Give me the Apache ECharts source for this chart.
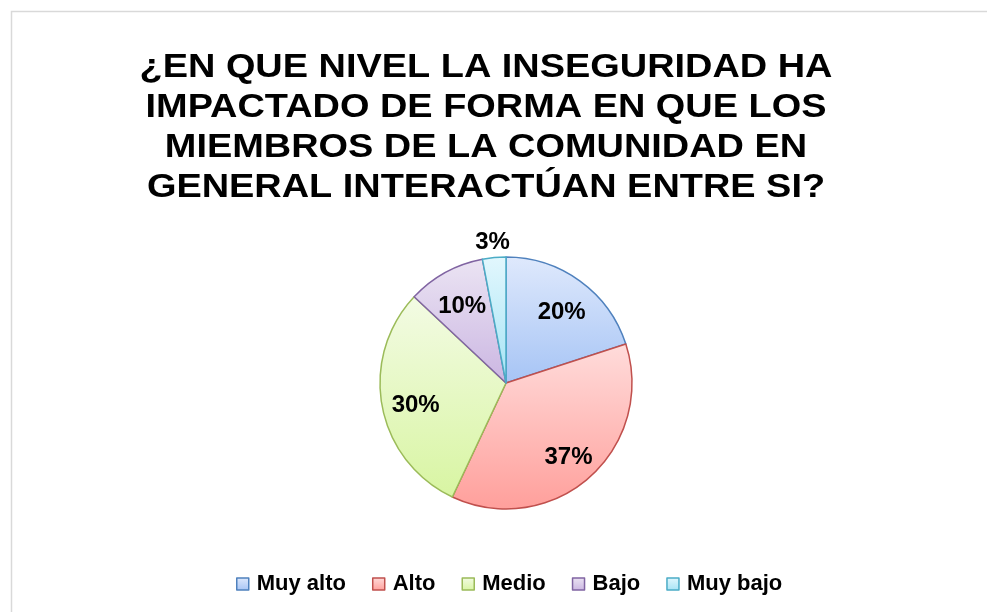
<!DOCTYPE html>
<html>
<head>
    <meta charset="UTF-8">
    <title>Inseguridad</title>
    <script src="https://cdn.jsdelivr.net/npm/echarts/dist/echarts.min.js"></script>
    <style>
        body { margin: 0; background: #fff; }
        #chart { width: 987px; height: 612px; }
    </style>
</head>
<body>
<div id="chart"></div>
<script>
    // datos del gráfico
    var categorias = ['Muy alto', 'Alto', 'Medio', 'Bajo', 'Muy bajo'];
    var valores = [20, 37, 30, 10, 3];
    var titulo = '¿EN QUE NIVEL LA INSEGURIDAD HA\nIMPACTADO DE FORMA EN QUE LOS\nMIEMBROS DE LA COMUNIDAD EN\nGENERAL INTERACTÚAN ENTRE SI?';

    // colores: borde, degradado arriba, degradado abajo
    var bordes = ['#4f81bd', '#c0504d', '#9bbb59', '#8064a2', '#4bacc6'];
    var claros = ['#dfe9fc', '#ffdcdb', '#f3fbe4', '#ebe4f3', '#e2f7fd'];
    var oscuros = ['#a6c4f5', '#ff9f9b', '#d8f5a2', '#cbb6e2', '#a5e3f5'];

    function degradado(i) {
        return new echarts.graphic.LinearGradient(0, 0, 0, 1, [
            { offset: 0, color: claros[i] },
            { offset: 1, color: oscuros[i] }
        ]);
    }

    var datos = categorias.map(function (c, i) {
        return {
            name: c,
            value: valores[i],
            itemStyle: { color: degradado(i), borderColor: bordes[i] }
        };
    });

    // etiquetas dentro (valores grandes) y fuera (valores pequeños)
    var etiquetasDentro = categorias.map(function (c, i) {
        return { name: c, value: valores[i], label: { show: valores[i] >= 5 } };
    });
    var etiquetasFuera = categorias.map(function (c, i) {
        return { name: c, value: valores[i], label: { show: valores[i] < 5 } };
    });

    var chart = echarts.init(document.getElementById('chart'));
    var font = 'Liberation Sans, Arial, sans-serif';
    var centro = [506, 383];

    function capaEtiquetas(radio, datosEt, desplaz) {
        return {
            type: 'pie',
            center: centro,
            radius: radio,
            startAngle: 90,
            clockwise: true,
            silent: true,
            legendHoverLink: false,
            itemStyle: { color: 'rgba(0,0,0,0)', borderWidth: 0 },
            label: {
                position: 'inside',
                formatter: '{c}%',
                fontFamily: font,
                fontSize: 24,
                fontWeight: 'bold',
                color: '#000',
                offset: desplaz
            },
            labelLine: { show: false },
            data: datosEt
        };
    }

    chart.setOption({
        animation: false,
        graphic: [{
            type: 'rect',
            shape: { x: 11.5, y: 11.5, width: 1000, height: 700 },
            style: { fill: 'none', stroke: '#d9d9d9', lineWidth: 1.5 },
            silent: true
        }, {
            type: 'text',
            x: 486,
            y: 48,
            scaleX: 1.115,
            silent: true,
            style: {
                text: titulo,
                fill: '#000',
                fontFamily: font,
                fontSize: 34,
                fontWeight: 'bold',
                lineHeight: 40,
                align: 'center',
                verticalAlign: 'top'
            }
        }],
        legend: {
            top: 568,
            left: 231,
            itemWidth: 12,
            itemHeight: 12,
            itemGap: 26,
            icon: 'rect',
            textStyle: {
                fontFamily: font, fontSize: 22, fontWeight: 'bold', color: '#000',
                padding: [0, 0, 0, 3]
            },
            data: categorias.map(function (c, i) {
                return {
                    name: c,
                    itemStyle: { color: degradado(i), borderColor: bordes[i], borderWidth: 1.5 }
                };
            })
        },
        series: [{
            type: 'pie',
            center: centro,
            radius: 126,
            startAngle: 90,
            clockwise: true,
            label: { show: false },
            labelLine: { show: false },
            itemStyle: { borderWidth: 1.5 },
            emphasis: { disabled: true },
            data: datos
        },
            capaEtiquetas([54, 126], etiquetasDentro, [1, 5]),
            capaEtiquetas([128, 152], etiquetasFuera, [0, 2])
        ]
    });
</script>
</body>
</html>
